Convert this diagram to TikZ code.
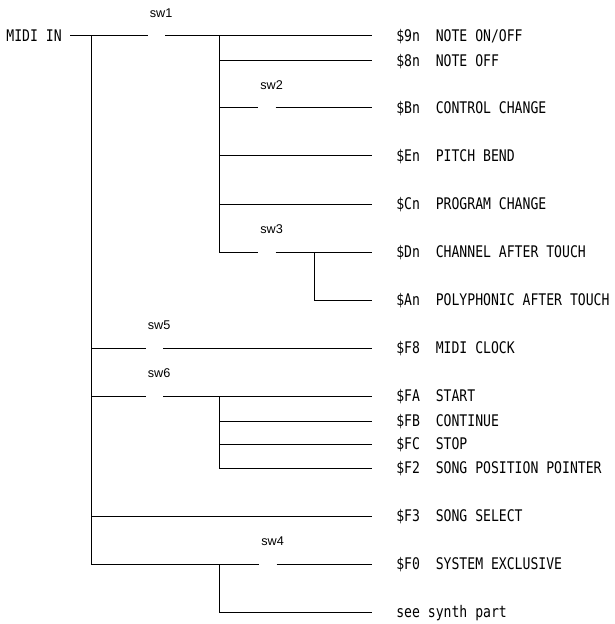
\documentclass[tikz,border=0pt]{standalone}
\usepackage{fontspec}
\newfontfamily\msgfont[FakeStretch=0.82]{DejaVu Sans Mono}
\newfontfamily\swfont{Liberation Sans}
\usetikzlibrary{positioning}

\begin{document}
\begin{tikzpicture}[
    x=0.75pt, y=-0.75pt,
    wire/.style={line width=0.75pt},
    msg/.style={anchor=west, inner xsep=18pt, inner ysep=0pt, text height=8.8pt, text depth=0pt, font=\msgfont\fontsize{12}{14}\selectfont},
    swgap/.style={inner sep=0pt, minimum width=12.5pt, minimum height=0pt},
    swlabel/.style={inner sep=0pt, text height=6.8pt, text depth=0pt, xshift=3.5pt, font=\swfont\fontsize{9.5}{11}\selectfont}
]
\useasboundingbox (0,0) rectangle (614,624);
\node[msg, anchor=east, inner xsep=6pt] (midi) at (70,36) {MIDI IN};
\node[msg] (m9n) at (372,36) {\$9n~~NOTE ON/OFF};
\node[msg] (m8n) at (372,61) {\$8n~~NOTE OFF};
\node[msg] (mBn) at (372,108) {\$Bn~~CONTROL CHANGE};
\node[msg] (mEn) at (372,156) {\$En~~PITCH BEND};
\node[msg] (mCn) at (372,204) {\$Cn~~PROGRAM CHANGE};
\node[msg] (mDn) at (372,252) {\$Dn~~CHANNEL AFTER TOUCH};
\node[msg] (mAn) at (372,300) {\$An~~POLYPHONIC AFTER TOUCH};
\node[msg] (mF8) at (372,348) {\$F8~~MIDI CLOCK};
\node[msg] (mFA) at (372,396) {\$FA~~START};
\node[msg] (mFB) at (372,421) {\$FB~~CONTINUE};
\node[msg] (mFC) at (372,444) {\$FC~~STOP};
\node[msg] (mF2) at (372,468) {\$F2~~SONG POSITION POINTER};
\node[msg] (mF3) at (372,516) {\$F3~~SONG SELECT};
\node[msg] (mF0) at (372,564) {\$F0~~SYSTEM EXCLUSIVE};
\node[msg] (synth) at (372,612) {see synth part};

\node[swgap] (s1) at (156.5,36) {};
\node[swgap] (s2) at (267,108) {};
\node[swgap] (s3) at (267,252) {};
\node[swgap] (s4) at (268,564) {};
\node[swgap] (s5) at (154.5,348) {};
\node[swgap] (s6) at (154.5,396) {};
\node[swlabel, above=13.5pt of s1] (sw1) {sw1};
\node[swlabel, above=13.5pt of s2] (sw2) {sw2};
\node[swlabel, above=13.5pt of s3] (sw3) {sw3};
\node[swlabel, above=13.5pt of s4] (sw4) {sw4};
\node[swlabel, above=13.5pt of s5] (sw5) {sw5};
\node[swlabel, above=13.5pt of s6] (sw6) {sw6};

\coordinate (j0) at (91,36);
\coordinate (j1) at (219,36);
\coordinate (j2) at (314,252);
\coordinate (j3) at (219,396);
\coordinate (j4) at (219,564);

\draw[wire] (midi) -- (s1.west);
\draw[wire] (s1.east) -- (m9n.west);
\draw[wire] (j1) |- (s3.west);
\draw[wire] (j1 |- m8n) -- (m8n.west);
\draw[wire] (j1 |- s2) -- (s2.west);
\draw[wire] (s2.east) -- (mBn.west);
\draw[wire] (j1 |- mEn) -- (mEn.west);
\draw[wire] (j1 |- mCn) -- (mCn.west);
\draw[wire] (s3.east) -- (mDn.west);
\draw[wire] (j2) |- (mAn.west);
\draw[wire] (j0) |- (s4.west);
\draw[wire] (s4.east) -- (mF0.west);
\draw[wire] (j0 |- s5) -- (s5.west);
\draw[wire] (s5.east) -- (mF8.west);
\draw[wire] (j0 |- s6) -- (s6.west);
\draw[wire] (s6.east) -- (mFA.west);
\draw[wire] (j3) |- (mF2.west);
\draw[wire] (j3 |- mFB) -- (mFB.west);
\draw[wire] (j3 |- mFC) -- (mFC.west);
\draw[wire] (j0 |- mF3) -- (mF3.west);
\draw[wire] (j4) |- (synth.west);
\end{tikzpicture}
\end{document}
